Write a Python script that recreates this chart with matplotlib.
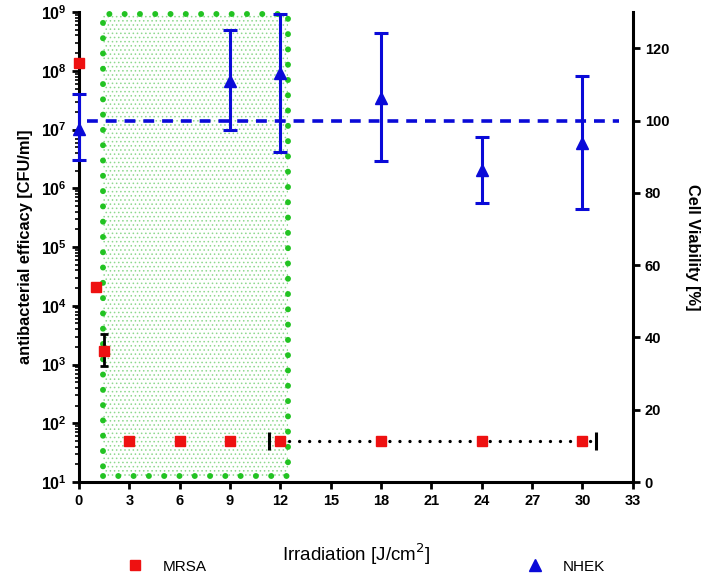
import matplotlib.pyplot as plt
from matplotlib.patches import Rectangle
from matplotlib.ticker import LogLocator, FixedLocator, NullFormatter

plt.rcParams['font.family'] = ['Liberation Sans', 'DejaVu Sans']

# MRSA - antibacterial efficacy (CFU/ml), left log axis
mrsa_x = [0, 1, 1.5, 3, 6, 9, 12, 18, 24, 30]
mrsa_y = [1.35e8, 2.05e4, 1.7e3, 50, 50, 50, 50, 50, 50, 50]
mrsa_err_lo = [0, 0, 750, 0, 0, 0, 0, 0, 0, 0]
mrsa_err_hi = [0, 0, 1600, 0, 0, 0, 0, 0, 0, 0]

# detection limit marker
lod_x = [11.3, 30.8]
lod_y = 50

# NHEK - cell viability (%), right axis
nhek_x = [0, 9, 12, 18, 24, 30]
nhek_y = [97.7, 110.9, 113.1, 106.2, 86.2, 93.9]
nhek_hi = [107.3, 125.0, 129.6, 124.1, 95.5, 112.3]
nhek_lo = [89.2, 97.4, 91.4, 88.9, 77.3, 75.4]
control_level = 100

# irradiation window
box_x = (1.43, 12.44)
box_y = (12.5, 9.3e8)

red = '#ee1111'
blue = '#0a0ad8'
green = '#22c322'

fig = plt.figure(figsize=(7.07, 5.77), dpi=100)
ax = fig.add_axes([0.1117, 0.1646, 0.7834, 0.8144])
ax2 = ax.twinx()

# green dotted box with fine dot hatch
plt.rcParams['hatch.linewidth'] = 0.6
ax.add_patch(Rectangle((box_x[0], box_y[0]), box_x[1] - box_x[0], box_y[1] - box_y[0],
                       facecolor='none', edgecolor='#8ed88e', hatch='....', linewidth=0, zorder=0))
ax.plot([box_x[0], box_x[1], box_x[1], box_x[0], box_x[0]],
        [box_y[0], box_y[0], box_y[1], box_y[1], box_y[0]],
        color=green, linewidth=4.3, linestyle=(0, (0.01, 2.55)),
        dash_capstyle='round', zorder=1, clip_on=False)

# MRSA
ax.errorbar(mrsa_x, mrsa_y, yerr=[mrsa_err_lo, mrsa_err_hi], fmt='s', color=red,
            markersize=6.5, ecolor='black', elinewidth=2, capsize=3, capthick=2,
            zorder=4, clip_on=False, label='MRSA')
lod = ax.errorbar([(lod_x[0] + lod_x[1]) / 2], [lod_y], xerr=[(lod_x[1] - lod_x[0]) / 2],
                  fmt='none', ecolor='black', elinewidth=2.4, capsize=6.5, capthick=2.2, zorder=3)
lod[2][0].set_linestyle((0, (0.01, 3.0)))
lod[2][0].set_capstyle('round')

# NHEK
ax2.plot([0.5, 32.2], [control_level, control_level], color=blue, linewidth=2.6,
         linestyle=(0, (3, 2.2)), zorder=2)
nhek_err = [[y - l for y, l in zip(nhek_y, nhek_lo)], [h - y for y, h in zip(nhek_y, nhek_hi)]]
ax2.errorbar(nhek_x, nhek_y, yerr=nhek_err, fmt='^', color=blue, markersize=8,
             elinewidth=2.2, capsize=5, capthick=2.2, zorder=4, clip_on=False, label='NHEK')

ax.set_yscale('log')
ax.set_ylim(10, 1e9)
ax.set_xlim(0, 33)
ax.set_xticks(range(0, 34, 3))
ax.yaxis.set_major_locator(LogLocator(base=10, numticks=20))
ax.yaxis.set_minor_locator(LogLocator(base=10, subs=range(2, 10), numticks=20))
ax.yaxis.set_minor_formatter(NullFormatter())
ax2.set_ylim(0, 130)
ax2.yaxis.set_major_locator(FixedLocator(range(0, 121, 20)))

for a in (ax, ax2):
    a.spines['top'].set_visible(False)
    for s in ('left', 'bottom', 'right'):
        a.spines[s].set_linewidth(2.2)
    a.tick_params(which='major', length=5, width=2, labelsize=10.5)
    a.tick_params(which='minor', length=3, width=1.2)
ax.tick_params(axis='y', labelsize=11.5)
for a in (ax, ax2):
    for lab in a.get_xticklabels() + a.get_yticklabels():
        lab.set_fontweight('bold')
ax.spines['right'].set_visible(False)
ax2.spines['left'].set_visible(False)
ax2.spines['bottom'].set_visible(False)

ax.set_xlabel('Irradiation [J/cm$^2$]', fontsize=13.5, labelpad=24)
ax.set_ylabel('antibacterial efficacy [CFU/ml]', fontsize=11.8, fontweight='bold', labelpad=6)
ax2.set_ylabel('Cell Viability [%]', fontsize=11.8, fontweight='bold', rotation=270, labelpad=22)

# legend shows markers only
h1, l1 = ax.get_legend_handles_labels()
h2, l2 = ax2.get_legend_handles_labels()
fig.legend([h1[0].lines[0]], l1, loc='center', bbox_to_anchor=(0.235, 0.018), frameon=False,
           fontsize=11, handlelength=1.2, handletextpad=1.2)
fig.legend([h2[0].lines[0]], l2, loc='center', bbox_to_anchor=(0.80, 0.018), frameon=False,
           fontsize=11, handlelength=1.2, handletextpad=1.2)

fig.savefig('out.png', dpi=100)
